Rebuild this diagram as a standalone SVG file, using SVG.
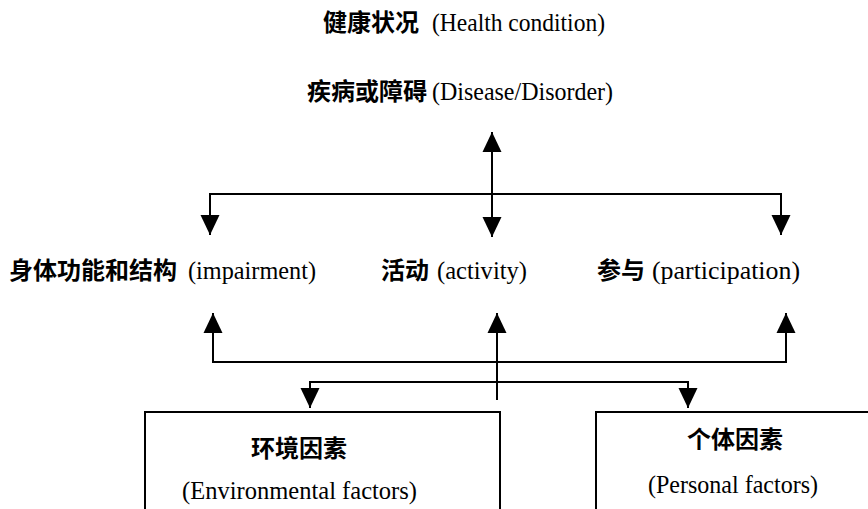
<svg xmlns="http://www.w3.org/2000/svg" width="868" height="509" viewBox="0 0 868 509">
<defs>
<style>
.lbl{font-family:"Liberation Serif","Noto Sans CJK SC",serif;font-size:26px;fill:#000}
.cjk{font-family:"Noto Sans CJK SC","Liberation Sans",sans-serif;font-weight:bold;font-size:24px}
.ln{fill:none;stroke:#000;stroke-width:2}
.box{fill:none;stroke:#000;stroke-width:2}
</style>
<marker id="arr" viewBox="0 0 20 20" refX="20" refY="10" markerWidth="20" markerHeight="20" markerUnits="userSpaceOnUse" orient="auto-start-reverse">
<path d="M0,0.5 L20,10 L0,19.5 Z" fill="#000"/>
</marker>
</defs>
<rect width="868" height="509" fill="#fff"/>

<g id="health">
<text class="lbl" x="323" y="31"><tspan class="cjk">健康状况</tspan><tspan x="432" textLength="173" lengthAdjust="spacingAndGlyphs">(Health condition)</tspan></text>
</g>
<g id="disease">
<text class="lbl" x="307" y="100"><tspan class="cjk">疾病或障碍</tspan><tspan x="432" textLength="181" lengthAdjust="spacingAndGlyphs">(Disease/Disorder)</tspan></text>
</g>
<g id="body">
<text class="lbl" x="9" y="279"><tspan class="cjk">身体功能和结构</tspan><tspan x="188" textLength="128" lengthAdjust="spacingAndGlyphs">(impairment)</tspan></text>
</g>
<g id="activity">
<text class="lbl" x="381" y="279"><tspan class="cjk">活动</tspan><tspan x="437" textLength="90" lengthAdjust="spacingAndGlyphs">(activity)</tspan></text>
</g>
<g id="participation">
<text class="lbl" x="597" y="279"><tspan class="cjk">参与</tspan><tspan x="652" textLength="148" lengthAdjust="spacingAndGlyphs">(participation)</tspan></text>
</g>
<g id="environment">
<rect class="box" x="145" y="412" width="355" height="110"/>
<text class="lbl cjk" x="299" y="457" text-anchor="middle">环境因素</text>
<text class="lbl" x="182" y="499" textLength="235" lengthAdjust="spacingAndGlyphs">(Environmental factors)</text>
</g>
<g id="personal">
<rect class="box" x="596" y="412" width="290" height="110"/>
<text class="lbl cjk" x="735" y="448" text-anchor="middle">个体因素</text>
<text class="lbl" x="648" y="493" textLength="170" lengthAdjust="spacingAndGlyphs">(Personal factors)</text>
</g>

<g id="connectors">
<path class="ln" d="M492,237 L492,132" marker-start="url(#arr)" marker-end="url(#arr)"/>
<path class="ln" d="M210,235 L210,194 L781,194 L781,235" marker-start="url(#arr)" marker-end="url(#arr)"/>
<path class="ln" d="M213,313 L213,362 L786,362 L786,313" marker-start="url(#arr)" marker-end="url(#arr)"/>
<path class="ln" d="M497,400 L497,313" marker-end="url(#arr)"/>
<path class="ln" d="M310,408 L310,382 L688,382 L688,408" marker-start="url(#arr)" marker-end="url(#arr)"/>
</g>
</svg>
